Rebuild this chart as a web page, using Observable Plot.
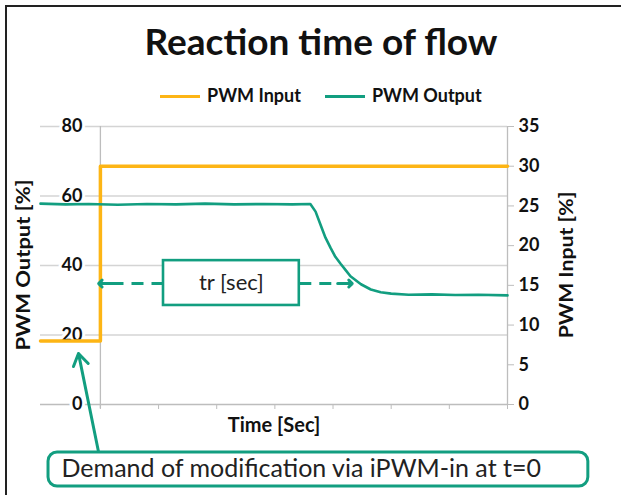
<!DOCTYPE html>
<html>
<head>
<meta charset="utf-8">
<script src="https://cdn.jsdelivr.net/npm/d3@7"></script>
<script src="https://cdn.jsdelivr.net/npm/@observablehq/plot@0.6"></script>
<style>
  body { margin: 0; background: #fff; }
  #wrap { position: relative; width: 621px; height: 495px; overflow: hidden; background: #fff; font-family: Lato, "Open Sans", sans-serif; }
  #border { position: absolute; left: 5px; top: 5px; width: 800px; height: 700px; border-left: 2px solid #222; border-top: 2px solid #222; }
  #title { position: absolute; left: 0; width: 642px; top: 18px; text-align: center; font-weight: 700; font-size: 37px; color: #111; line-height: normal; }
  #legend { position: absolute; left: 160px; top: 84px; font-weight: 700; font-size: 18px; color: #111; white-space: nowrap; }
  #legend span.sw { display: inline-block; width: 40px; height: 3px; vertical-align: middle; margin-right: 7px; position: relative; top: -1px; }
  #legend span.item { margin-right: 24px; }
  .ytitle { position: absolute; width: 200px; text-align: center; font-weight: 700; font-size: 18px; color: #111; line-height: 20px; }
  svg { position: absolute; left: 0; top: 0; }
</style>
</head>
<body>
<div id="wrap">
  <div id="border"></div>
  <div id="title">Reaction time of flow</div>
  <div id="legend"><span class="item"><span class="sw" style="background:#FDB515"></span>PWM Input</span><span class="item"><span class="sw" style="background:#129E80"></span>PWM Output</span></div>
</div>
<script>
// ---- data ----
const timeTicks = [0, 1, 2, 3, 4, 5, 6, 7];
const leftTicks = [0, 20, 40, 60, 80];
const gridValues = [20, 40, 60, 80];
const rightTicks = [0, 5, 10, 15, 20, 25, 30, 35];

// PWM Input (right axis, %)
const inputTime = [-1.03, 0, 0, 1.0, 2.0, 3.0, 4.0, 5.0, 6.0, 7.0];
const inputValue = [8, 8, 30, 30, 30, 30, 30, 30, 30, 30];

// PWM Output (left axis, %)
const outputTime = [-1.03, -0.6, -0.2, 0.3, 0.8, 1.3, 1.8, 2.3, 2.8, 3.3, 3.61, 3.70, 3.79, 3.87, 3.96, 4.04, 4.13, 4.22, 4.30, 4.48, 4.65, 4.82, 5.0, 5.3, 5.7, 6.1, 6.5, 7.0];
const outputValue = [57.8, 57.6, 57.7, 57.5, 57.7, 57.6, 57.8, 57.6, 57.7, 57.6, 57.7, 55.5, 51.5, 48, 45, 42.5, 40.5, 38.6, 36.9, 34.6, 33.1, 32.3, 31.9, 31.6, 31.7, 31.5, 31.6, 31.4];

// annotations (data coordinates)
const trBox = [{x1: 1.085, x2: 3.42, y1: 28.5, y2: 41.4, label: "tr [sec]"}];
const trArrowY = 34.8;
const trArrows = [
  {from: 1.085, to: -0.03},
  {from: 3.42, to: 4.33}
];
const demandArrow = [{x1: -0.03, y1: -13.8, x2: -0.377, y2: 14.7}];
const demandBox = [{x1: -0.892, x2: 8.39, y1: -23.6, y2: -13.8, label: "Demand of modification via iPWM-in at t=0"}];

const orange = "#FDB515";
const teal = "#129E80";
const rightToLeft = v => v * 80 / 35;

const inputData = inputTime.map((t, i) => ({t, v: rightToLeft(inputValue[i])}));
const outputData = outputTime.map((t, i) => ({t, v: outputValue[i]}));

const W = 621, H = 495, mL = 40, mR = 114, mT = 126, mB = 91;

const chart = Plot.plot({
  width: W,
  height: H,
  marginLeft: mL,
  marginRight: mR,
  marginTop: mT,
  marginBottom: mB,
  style: {fontFamily: "Lato, 'Open Sans', sans-serif", background: "transparent", color: "#111"},
  x: {domain: [-1.03, 7], axis: null},
  y: {domain: [0, 80], axis: null},
  marks: [
    Plot.ruleY(gridValues, {stroke: "#d4d4d4", strokeWidth: 1.3}),
    Plot.ruleY([0], {stroke: "#bdbdbd", strokeWidth: 1.3}),
    Plot.ruleX([0], {y1: -1.2, y2: 80, stroke: "#bdbdbd", strokeWidth: 1.3}),
    Plot.ruleX([7], {y1: 0, y2: 80, stroke: "#bdbdbd", strokeWidth: 1.3}),
    Plot.axisX(timeTicks, {anchor: "bottom", tickSize: 5, tickFormat: () => "", stroke: "#bdbdbd", label: null}),
    Plot.axisY(rightTicks.map(rightToLeft), {anchor: "right", tickSize: 6, tickPadding: 5, stroke: "#bdbdbd",
      tickFormat: d => String(Math.round(d * 35 / 80)), fontSize: 18, fontWeight: 700, color: "#111", label: null}),
    Plot.text(leftTicks, {x: () => 0, y: d => d, dx: -18, text: d => String(d), textAnchor: "end",
      fontSize: 18, fontWeight: 700, fill: "#111", stroke: "white", strokeWidth: 6, paintOrder: "stroke"}),
    Plot.text(["Time [Sec]"], {frameAnchor: "bottom", dy: 21, lineAnchor: "middle", fontSize: 20, fontWeight: 700, fill: "#111"}),
    Plot.line(inputData, {x: "t", y: "v", stroke: orange, strokeWidth: 3.5}),
    Plot.line(outputData, {x: "t", y: "v", stroke: teal, strokeWidth: 2.6}),
    // tr annotation
    Plot.link(trArrows, {x1: "from", x2: d => d.to + (d.to > d.from ? -0.08 : 0.08), y1: trArrowY, y2: trArrowY,
      stroke: teal, strokeWidth: 3, strokeDasharray: "12 8"}),
    Plot.arrow(trArrows, {x1: d => d.to + (d.to > d.from ? -0.25 : 0.25), x2: "to", y1: trArrowY, y2: trArrowY,
      stroke: teal, strokeWidth: 3, headLength: 5.5, headAngle: 90}),
    Plot.rect(trBox, {x1: "x1", x2: "x2", y1: "y1", y2: "y2", fill: "white", stroke: teal, strokeWidth: 2.6}),
    Plot.text(trBox, {x: d => (d.x1 + d.x2) / 2, y: d => (d.y1 + d.y2) / 2, text: "label", fontSize: 22, fill: "#222"}),
    // demand annotation
    Plot.arrow(demandArrow, {x1: "x1", y1: "y1", x2: "x2", y2: "y2", stroke: teal, strokeWidth: 3, headLength: 7, headAngle: 65}),
    Plot.rect(demandBox, {x1: "x1", x2: "x2", y1: "y1", y2: "y2", fill: "white", stroke: teal, strokeWidth: 3, rx: 9}),
    Plot.text(demandBox, {x: "x1", y: d => (d.y1 + d.y2) / 2, dx: 13, text: "label", textAnchor: "start", fontSize: 25, fill: "#222"})
  ]
});
const wrap = document.getElementById("wrap");
wrap.appendChild(chart);

// rotated axis titles, centred on the plot frame
const frameMidY = mT + (H - mT - mB) / 2;
function yTitle(text, cx, sx) {
  const d = document.createElement("div");
  d.className = "ytitle";
  d.textContent = text;
  d.style.left = (cx - 100) + "px";
  d.style.top = (frameMidY - 10) + "px";
  d.style.transform = `rotate(-90deg) scale(${sx}, 1)`;
  wrap.appendChild(d);
}
yTitle("PWM Output [%]", 23, 1.22);
yTitle("PWM Input [%]", W - mR + 59, 1.18);
</script>
</body>
</html>
